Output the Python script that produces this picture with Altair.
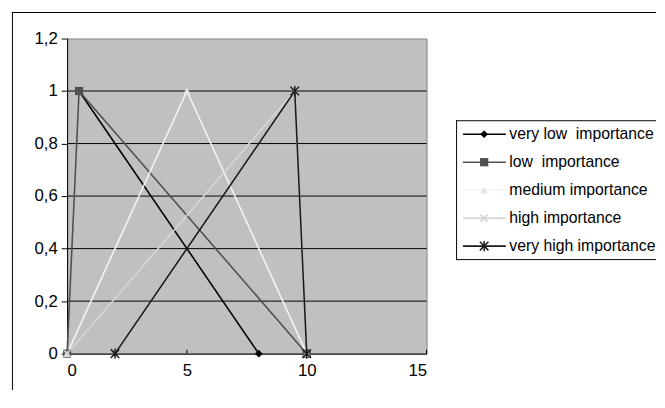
import altair as alt
import pandas as pd

# ---------------- data ----------------
series = ["very low importance", "low importance", "medium importance",
          "high importance", "very high importance"]
legend_labels = ["very low\u00a0 importance", "low\u00a0 importance", "medium importance",
                 "\u00a0high importance", "very high importance"]

very_low_x = [0.5, 8]
very_low_y = [1, 0]
low_x = [0, 0.5, 10]
low_y = [0, 1, 0]
medium_x = [0, 5, 10]
medium_y = [0, 1, 0]
high_x = [0, 9.5, 10]
high_y = [0, 1, 0]
very_high_x = [2, 9.5, 10]
very_high_y = [0, 1, 0]

x_ticks = [0, 5, 10, 15]
y_ticks = [0, 0.2, 0.4, 0.6, 0.8, 1.0, 1.2]
grid_lines = [0.2, 0.4, 0.6, 0.8, 1.0]

# ---------------- styles ----------------
X_PATH = "M-1,-1L1,1M-1,1L1,-1"
STAR_PATH = "M-1,-1L1,1M-1,1L1,-1M0,-1.2L0,1.2"
line_colors = ["#000000", "#505050", "#f4f4f4", "#d6d6d6", "#1a1a1a"]
marker_colors = ["#000000", "#505050", "#e4e4e4", "#d0d0d0", "#1a1a1a"]
shapes = ["diamond", "square", "triangle-up", X_PATH, STAR_PATH]
filled = [True, True, True, False, False]
sizes = [62, 70, 62, 55, 75]

FONT = "Liberation Sans"
W, H = 365, 320
GAP = 30
LW, LH = 203, 142
LEG_TOP = 83

all_x = [very_low_x, low_x, medium_x, high_x, very_high_x]
all_y = [very_low_y, low_y, medium_y, high_y, very_high_y]

rows = []
for s, xs_, ys_ in zip(series, all_x, all_y):
    for i, (xv, yv) in enumerate(zip(xs_, ys_)):
        rows.append({"series": s, "i": i, "x": xv, "y": yv})
df = pd.DataFrame(rows)

x_axis = alt.Axis(values=x_ticks, ticks=False, domainColor="black", labelColor="black",
                  labelFont=FONT, labelFontSize=17, labelPadding=9, grid=False, title=None)
y_axis = alt.Axis(values=y_ticks, tickColor="black", tickSize=6, domainColor="black",
                  labelColor="black", labelFont=FONT, labelFontSize=17, labelPadding=4,
                  grid=False, title=None,
                  labelExpr="replace(format(datum.value, '~g'), '.', ',')")
X = alt.X("x:Q", scale=alt.Scale(domain=[0, 15], nice=False, zero=False), axis=x_axis)
Y = alt.Y("y:Q", scale=alt.Scale(domain=[0, 1.2], nice=False), axis=y_axis)

one = pd.DataFrame({"a": [0]})

grid = alt.Chart(pd.DataFrame({"y": grid_lines})).mark_rule(color="black", strokeWidth=1).encode(y=Y)
xtick = alt.Chart(pd.DataFrame({"x": x_ticks})).mark_rule(color="black", strokeWidth=1).encode(
    x=X, y=alt.value(H - 4), y2=alt.value(H))

layers = [grid, xtick]
for k, s in enumerate(series):
    d = df[df["series"] == s]
    ln = alt.Chart(d).mark_line(color=line_colors[k], strokeWidth=1.6).encode(x=X, y=Y, order="i:Q")
    layers.append(ln)
for k, s in enumerate(series):
    d = df[df["series"] == s]
    if filled[k]:
        pt = alt.Chart(d).mark_point(shape=shapes[k], filled=True, fill=marker_colors[k],
                                     opacity=1, size=sizes[k], strokeWidth=0)
    else:
        pt = alt.Chart(d).mark_point(shape=shapes[k], filled=False, stroke=marker_colors[k],
                                     opacity=1, size=sizes[k], strokeWidth=1.5)
    layers.append(pt.encode(x=X, y=Y))

# outer frame (decoration)
RIGHT = W + GAP + LW
frame_left = alt.Chart(one).mark_rect(color="black").encode(
    x=alt.value(-56), x2=alt.value(-55), y=alt.value(-27), y2=alt.value(357))
frame_top = alt.Chart(one).mark_rect(color="black").encode(
    x=alt.value(-56), x2=alt.value(RIGHT), y=alt.value(-27), y2=alt.value(-26))
layers += [frame_left, frame_top]

plot = alt.layer(*layers).properties(
    width=W, height=H,
    view=alt.ViewBackground(fill="#C0C0C0", stroke="#808080", strokeWidth=1))

# ---------------- legend ----------------
leg_rows = []
for s, lab in zip(series, legend_labels):
    leg_rows.append({"series": s, "label": lab, "lx": 7, "px": 28.5, "tx": 54})
    leg_rows.append({"series": s, "label": lab, "lx": 50.5, "px": 28.5, "tx": 54})
ldf = pd.DataFrame(leg_rows)

LX = lambda f: alt.X(f, scale=alt.Scale(domain=[0, LW], nice=False, zero=False), axis=None)
LY = alt.Y("series:N", scale=alt.Scale(type="point", domain=series, padding=0.5), axis=None)

leg_layers = []
for k, s in enumerate(series):
    d = ldf[ldf["series"] == s]
    leg_layers.append(alt.Chart(d).mark_line(color=line_colors[k], strokeWidth=1.6).encode(
        x=LX("lx:Q"), y=LY))
for k, s in enumerate(series):
    d = ldf[ldf["series"] == s].iloc[:1]
    if filled[k]:
        pt = alt.Chart(d).mark_point(shape=shapes[k], filled=True, fill=marker_colors[k],
                                     opacity=1, size=sizes[k], strokeWidth=0)
    else:
        pt = alt.Chart(d).mark_point(shape=shapes[k], filled=False, stroke=marker_colors[k],
                                     opacity=1, size=sizes[k], strokeWidth=1.5)
    leg_layers.append(pt.encode(x=LX("px:Q"), y=LY))
txt = alt.Chart(ldf.drop_duplicates("series")).mark_text(
    align="left", baseline="middle", font=FONT, fontSize=16, color="black", clip=True).encode(
    x=LX("tx:Q"), y=LY, text="label:N")
leg_layers.append(txt)
leg_layers.append(alt.Chart(one).mark_rule(color="black").encode(
    x=alt.value(0.5), y=alt.value(0), y2=alt.value(LH)))
leg_layers.append(alt.Chart(one).mark_rule(color="black").encode(
    x=alt.value(0), x2=alt.value(LW), y=alt.value(0.5)))
leg_layers.append(alt.Chart(one).mark_rule(color="black").encode(
    x=alt.value(0), x2=alt.value(LW), y=alt.value(LH - 0.5)))

legend = alt.layer(*leg_layers).properties(
    width=LW, height=LH, view=alt.ViewBackground(stroke="transparent", fill="white"))

spacer = alt.Chart(one).mark_point(opacity=0).encode(
    x=alt.value(0), y=alt.value(0)).properties(
    width=LW, height=LEG_TOP, view=alt.ViewBackground(stroke="transparent"))

legcol = alt.vconcat(spacer, legend, spacing=0, bounds="flush")

chart = alt.hconcat(plot, legcol, spacing=GAP, bounds="flush").properties(
    padding={"left": 3, "top": 0, "right": 0, "bottom": 0},
    background="white")

chart.save("out.html", embed_options={"renderer": "svg", "actions": False})
